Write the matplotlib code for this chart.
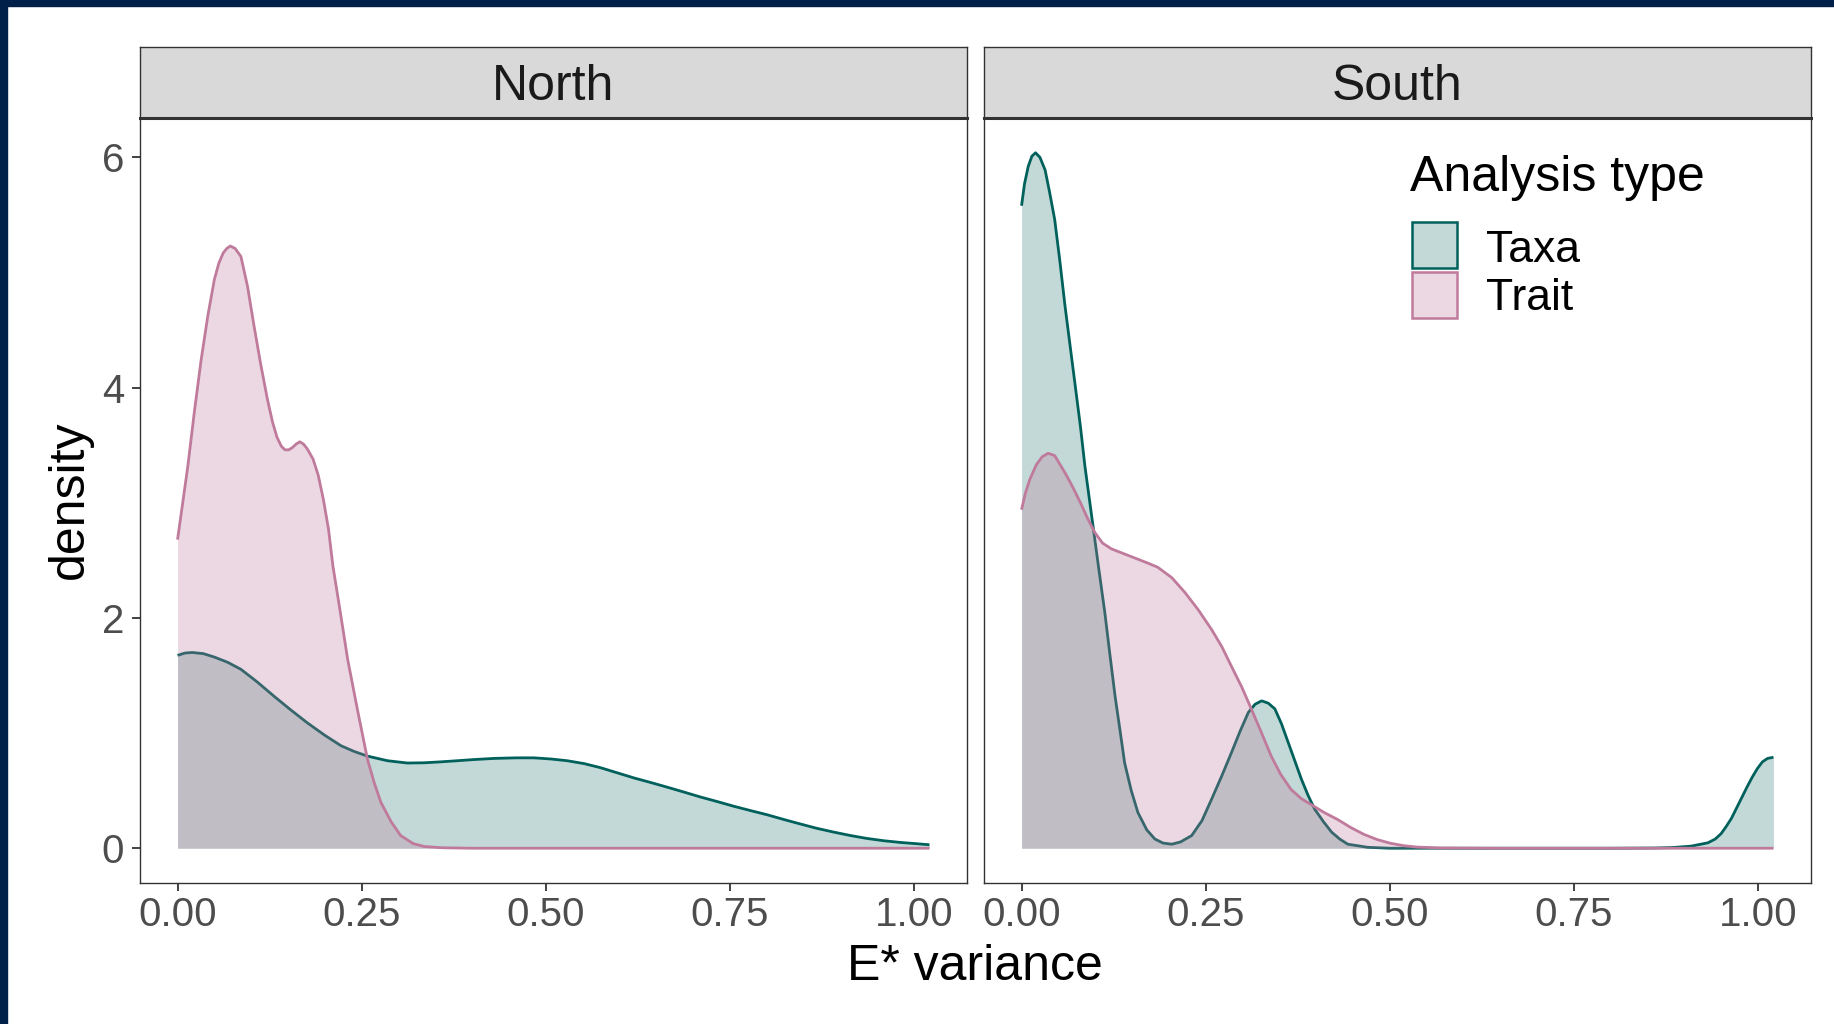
import numpy as np
import matplotlib.pyplot as plt
from matplotlib.patches import Rectangle

plt.rcParams['font.family'] = ['Liberation Sans', 'DejaVu Sans']

# densities (x = E* variance, y = density)
north_taxa_x = [0.000, 0.010, 0.020, 0.035, 0.050, 0.068, 0.086, 0.108, 0.131, 0.153, 0.176, 0.199,
                0.222, 0.240, 0.258, 0.285, 0.312, 0.335, 0.357, 0.380, 0.402, 0.430, 0.460, 0.484,
                0.507, 0.529, 0.552, 0.574, 0.597, 0.620, 0.643, 0.665, 0.688, 0.710, 0.733, 0.755,
                0.778, 0.801, 0.823, 0.846, 0.868, 0.891, 0.914, 0.936, 0.959, 0.982, 1.002, 1.021]
north_taxa_y = [1.675, 1.695, 1.700, 1.690, 1.660, 1.615, 1.554, 1.445, 1.320, 1.205, 1.090, 0.985,
                0.890, 0.840, 0.800, 0.760, 0.740, 0.742, 0.750, 0.760, 0.770, 0.780, 0.785, 0.785,
                0.775, 0.760, 0.735, 0.700, 0.655, 0.610, 0.570, 0.530, 0.487, 0.445, 0.405, 0.365,
                0.327, 0.290, 0.250, 0.210, 0.173, 0.140, 0.110, 0.085, 0.065, 0.050, 0.040, 0.030]

north_trait_x = [0.000, 0.007, 0.014, 0.023, 0.032, 0.041, 0.050, 0.056, 0.062, 0.067, 0.0716, 0.078,
                 0.086, 0.095, 0.104, 0.113, 0.122, 0.129, 0.135, 0.141, 0.146, 0.151, 0.156, 0.161,
                 0.166, 0.171, 0.176, 0.184, 0.191, 0.198, 0.205, 0.211, 0.221, 0.231, 0.245, 0.258,
                 0.267, 0.276, 0.290, 0.303, 0.320, 0.335, 0.360, 0.400, 0.500, 0.700, 0.900, 1.021]
north_trait_y = [2.68, 3.00, 3.32, 3.80, 4.24, 4.62, 4.94, 5.08, 5.17, 5.21, 5.23, 5.21,
                 5.14, 4.88, 4.53, 4.20, 3.90, 3.70, 3.57, 3.49, 3.46, 3.46, 3.48, 3.51,
                 3.53, 3.51, 3.47, 3.38, 3.24, 3.03, 2.77, 2.45, 2.05, 1.64, 1.18, 0.77,
                 0.57, 0.40, 0.23, 0.11, 0.04, 0.015, 0.004, 0.000, 0.000, 0.000, 0.000, 0.000]

south_taxa_x = [0.000, 0.004, 0.009, 0.014, 0.019, 0.025, 0.032, 0.038, 0.045, 0.052, 0.059, 0.066,
                0.073, 0.080, 0.086, 0.097, 0.105, 0.113, 0.120, 0.127, 0.134, 0.140, 0.149, 0.158,
                0.170, 0.181, 0.192, 0.204, 0.216, 0.231, 0.245, 0.258, 0.272, 0.285, 0.297, 0.308,
                0.317, 0.326, 0.335, 0.344, 0.353, 0.362, 0.371, 0.380, 0.389, 0.398, 0.410, 0.421,
                0.432, 0.443, 0.470, 0.500, 0.600, 0.700, 0.800, 0.860, 0.884, 0.909, 0.932, 0.942,
                0.950, 0.957, 0.964, 0.971, 0.978, 0.985, 0.992, 0.999, 1.006, 1.013, 1.021]
south_taxa_y = [5.58, 5.77, 5.92, 6.01, 6.04, 6.00, 5.89, 5.70, 5.46, 5.10, 4.71, 4.36,
                4.01, 3.66, 3.32, 2.80, 2.42, 2.05, 1.68, 1.32, 1.01, 0.74, 0.50, 0.31,
                0.16, 0.08, 0.045, 0.035, 0.055, 0.11, 0.24, 0.425, 0.63, 0.83, 1.02, 1.18,
                1.25, 1.28, 1.26, 1.21, 1.08, 0.92, 0.76, 0.60, 0.46, 0.34, 0.23, 0.14,
                0.08, 0.035, 0.008, 0.000, 0.000, 0.000, 0.000, 0.002, 0.006, 0.018, 0.047, 0.080,
                0.127, 0.19, 0.26, 0.35, 0.44, 0.53, 0.615, 0.69, 0.75, 0.78, 0.79]

south_trait_x = [0.000, 0.005, 0.011, 0.020, 0.028, 0.036, 0.045, 0.060, 0.070, 0.080, 0.090, 0.0997,
                 0.110, 0.122, 0.138, 0.154, 0.170, 0.185, 0.204, 0.222, 0.240, 0.258, 0.272, 0.285,
                 0.299, 0.312, 0.326, 0.339, 0.352, 0.366, 0.380, 0.393, 0.411, 0.429, 0.447, 0.465,
                 0.483, 0.501, 0.519, 0.537, 0.570, 0.650, 0.800, 0.900, 1.021]
south_trait_y = [2.94, 3.08, 3.20, 3.33, 3.40, 3.43, 3.41, 3.25, 3.13, 3.00, 2.86, 2.74,
                 2.65, 2.60, 2.56, 2.52, 2.48, 2.44, 2.35, 2.22, 2.07, 1.90, 1.75, 1.58,
                 1.40, 1.21, 1.00, 0.80, 0.64, 0.51, 0.43, 0.38, 0.31, 0.25, 0.18, 0.12,
                 0.075, 0.043, 0.022, 0.010, 0.002, 0.000, 0.000, 0.000, 0.000]

panels = ['North', 'South']
types = ['Taxa', 'Trait']
x_ticks = [0.00, 0.25, 0.50, 0.75, 1.00]
x_tick_labels = ['0.00', '0.25', '0.50', '0.75', '1.00']
y_ticks = [0, 2, 4, 6]

data = {
    ('North', 'Taxa'): (north_taxa_x, north_taxa_y),
    ('North', 'Trait'): (north_trait_x, north_trait_y),
    ('South', 'Taxa'): (south_taxa_x, south_taxa_y),
    ('South', 'Trait'): (south_trait_x, south_trait_y),
}
line_col = {'Taxa': '#00605b', 'Trait': '#bf7a9c'}
fill_alpha = {'Taxa': 0.24, 'Trait': 0.29}

W, H = 1834, 1024
fig = plt.figure(figsize=(W / 100, H / 100), dpi=100)


def px_rect(x0, y0, x1, y1):
    # pixel box (top-left origin) -> figure fraction
    return [x0 / W, 1 - y1 / H, (x1 - x0) / W, (y1 - y0) / H]


# navy frame on the left and top edge
fig.patches.append(Rectangle((0, 0), 7 / W, 1, transform=fig.transFigure, color='#00204a', zorder=10))
fig.patches.append(Rectangle((0, 1 - 6 / H), 1, 6 / H, transform=fig.transFigure, color='#00204a', zorder=10))

panel_x = {'North': (140, 967), 'South': (984, 1811)}

for p in panels:
    x0, x1 = panel_x[p]
    ax = fig.add_axes(px_rect(x0, 118, x1, 883))
    for i, t in enumerate(types):
        xs, ys = data[(p, t)]
        ax.fill_between(xs, ys, 0, color=line_col[t], alpha=fill_alpha[t], lw=0, zorder=2 + 2 * i)
        ax.plot(xs, ys, color=line_col[t], lw=2.0, zorder=3 + 2 * i, solid_capstyle='butt')
    ax.set_xlim(-0.051, 1.072)
    ax.set_ylim(-0.302, 6.342)
    ax.set_xticks(x_ticks)
    ax.set_xticklabels(x_tick_labels)
    ax.set_yticks(y_ticks)
    ax.tick_params(axis='both', length=5.5, width=1.3, color='#333333',
                   labelcolor='#4d4d4d', labelsize=29)
    ax.tick_params(axis='x', pad=4)
    ax.tick_params(axis='y', pad=6)
    if p == 'South':
        ax.tick_params(axis='y', left=False, labelleft=False)
    for s in ax.spines.values():
        s.set_color('#333333')
        s.set_linewidth(1.0)

    sax = fig.add_axes(px_rect(x0, 47, x1, 118))
    sax.set_facecolor('#d9d9d9')
    sax.set_xticks([])
    sax.set_yticks([])
    for s in sax.spines.values():
        s.set_color('#333333')
        s.set_linewidth(1.0)
    sax.spines['bottom'].set_linewidth(2.2)
    sax.text(0.5, 0.43, p, ha='center', va='center', fontsize=36, color='#1a1a1a',
             transform=sax.transAxes)

fig.text(70 / W, 1 - 500 / H, 'density', rotation=90, ha='center', va='center', fontsize=36)
fig.text(975 / W, 1 - 967 / H, 'E* variance', ha='center', va='center', fontsize=36)

# legend inside the South panel
fig.text(1410 / W, 1 - 191 / H, 'Analysis type', ha='left', va='baseline', fontsize=36)
key_y = {'Taxa': (222, 268), 'Trait': (272, 318)}
label_base = {'Taxa': 262, 'Trait': 310}
for t in types:
    y0, y1 = key_y[t]
    r = px_rect(1412, y0, 1457, y1)
    fig.patches.append(Rectangle((r[0], r[1]), r[2], r[3], transform=fig.transFigure,
                                 facecolor=line_col[t], alpha=fill_alpha[t], lw=0))
    fig.patches.append(Rectangle((r[0], r[1]), r[2], r[3], transform=fig.transFigure,
                                 facecolor='none', edgecolor=line_col[t], lw=1.8))
    fig.text(1486 / W, 1 - label_base[t] / H, t, ha='left', va='baseline', fontsize=32)

fig.savefig('out.png', dpi=100)
